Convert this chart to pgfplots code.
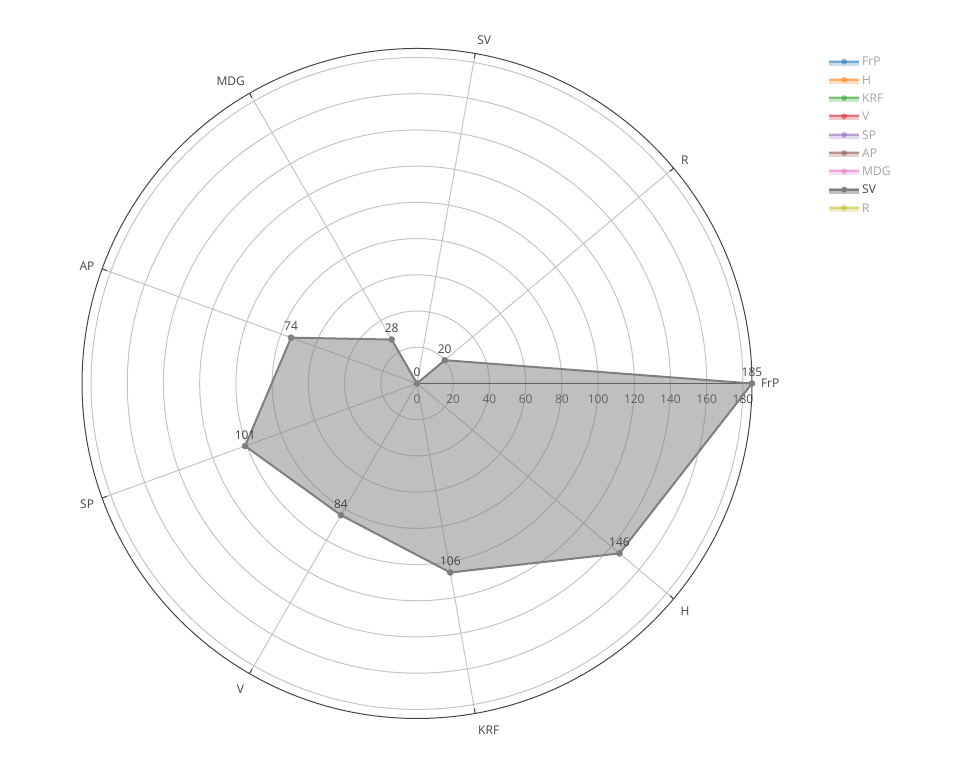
\documentclass[border=0pt]{standalone}
\usepackage{fontspec}
\setmainfont{Open Sans}
\usepackage{pgfplots}
\usepgfplotslibrary{polar}
\pgfplotsset{compat=1.18}
\definecolor{txt}{HTML}{444444}
\definecolor{ltxt}{HTML}{A1A1A1}
\definecolor{gridc}{HTML}{C4C4C4}
\definecolor{cFrP}{HTML}{1F77B4}
\definecolor{cH}{HTML}{FF7F0E}
\definecolor{cKRF}{HTML}{2CA02C}
\definecolor{cV}{HTML}{D62728}
\definecolor{cSP}{HTML}{9467BD}
\definecolor{cAP}{HTML}{8C564B}
\definecolor{cMDG}{HTML}{E377C2}
\definecolor{cSV}{HTML}{7F7F7F}
\definecolor{cR}{HTML}{BCBD22}
% left-aligned / right-aligned zero-size labels: text, horizontal offset, baseline raise
\newcommand\lblL[3]{\makebox[0pt][l]{\hspace*{#2}\raisebox{#3}[0pt][0pt]{#1}}}
\newcommand\lblR[3]{\makebox[0pt][r]{\raisebox{#3}[0pt][0pt]{#1}\hspace*{#2}}}
\pgfplotsset{
  legoff/.style={legend image code/.code={
    \path[fill=#1, fill opacity=0.25, draw=none] (0pt,-3pt) rectangle (22.5pt,1.5pt);
    \path[draw=#1, line width=1.5pt, draw opacity=0.5] (0pt,0pt) -- (22.5pt,0pt);
    \path[fill=#1, fill opacity=0.5, draw=none] (11.25pt,0pt) circle (2.25pt);
  }},
  legon/.style={legend image code/.code={
    \path[fill=#1, fill opacity=0.5, draw=none] (0pt,-3pt) rectangle (22.5pt,1.5pt);
    \path[draw=#1, line width=1.5pt] (0pt,0pt) -- (22.5pt,0pt);
    \path[fill=#1, draw=none] (11.25pt,0pt) circle (2.25pt);
  }},
}
\begin{document}
\begin{tikzpicture}
\path[use as bounding box] (0,0) rectangle (720pt,576pt);
\begin{polaraxis}[
  at={(312.75pt,288.4pt)}, anchor=center,
  scale only axis, width=502.5pt, height=502.5pt,
  xmin=0, xmax=360, ymin=0, ymax=185,
  xtick={0,40,...,320},
  xticklabels={
    \lblL{FrP}{10.5pt}{-3.2pt},
    \lblL{R}{8.42pt}{4.99pt},
    \lblL{SV}{2.25pt}{10.29pt},
    \lblR{MDG}{5.28pt}{8.82pt},
    \lblR{AP}{9.42pt}{0.41pt},
    \lblR{SP}{9.67pt}{-9.43pt},
    \lblR{V}{5.98pt}{-18.0pt},
    \lblL{KRF}{2.95pt}{-19.69pt},
    \lblL{H}{8.17pt}{-14.76pt}},
  xticklabel style={anchor=center, inner sep=0pt},
  ytick={0,20,...,180},
  yticklabel={\makebox[0pt]{\raisebox{-19pt}[0pt][0pt]{\pgfmathprintnumber{\tick}}}},
  yticklabel style={anchor=center, inner sep=0pt},
  grid=major,
  major grid style={gridc, line width=0.75pt},
  axis line style={txt, line width=0.75pt},
  tick align=outside,
  xtick style={txt, line width=0.75pt},
  major tick length=3.75pt,
  ytick style={draw=none},
  tick label style={font=\fontsize{9}{10}\selectfont, text=txt},
  /pgf/number format/assume math mode=true,
  clip=false,
  legend style={at={(1.1134,0.9873)}, anchor=north west, draw=none, fill=none,
    inner sep=0pt, font=\fontsize{9}{10}\selectfont, row sep=7.3pt, column sep=1.5pt,
    nodes={inner sep=0pt, text height=6.43pt, text depth=0pt}},
  legend cell align=left,
]
\addplot[draw=cSV, line width=1.5pt, line join=round, fill=cSV, fill opacity=0.5, forget plot]
  coordinates {(0,185) (320,146) (280,106) (240,84) (200,101) (160,74) (120,28) (80,0) (40,20) (0,185)};
\addplot[only marks, mark=*, mark size=2.25pt, color=cSV, forget plot,
  nodes near coords, point meta=explicit symbolic,
  every node near coord/.append style={font=\fontsize{9}{10}\selectfont, text=txt, anchor=base, inner sep=0pt, yshift=5pt}]
  coordinates {(0,185)[185] (320,146)[146] (280,106)[106] (240,84)[84] (200,101)[101] (160,74)[74] (120,28)[28] (80,0)[0] (40,20)[20]};
\addlegendimage{legoff=cFrP}\addlegendentry{\textcolor{ltxt}{FrP}}
\addlegendimage{legoff=cH}\addlegendentry{\textcolor{ltxt}{H}}
\addlegendimage{legoff=cKRF}\addlegendentry{\textcolor{ltxt}{KRF}}
\addlegendimage{legoff=cV}\addlegendentry{\textcolor{ltxt}{V}}
\addlegendimage{legoff=cSP}\addlegendentry{\textcolor{ltxt}{SP}}
\addlegendimage{legoff=cAP}\addlegendentry{\textcolor{ltxt}{AP}}
\addlegendimage{legoff=cMDG}\addlegendentry{\textcolor{ltxt}{MDG}}
\addlegendimage{legon=cSV}\addlegendentry{\textcolor{txt}{SV}}
\addlegendimage{legoff=cR}\addlegendentry{\textcolor{ltxt}{R}}
\end{polaraxis}
\end{tikzpicture}
\end{document}
